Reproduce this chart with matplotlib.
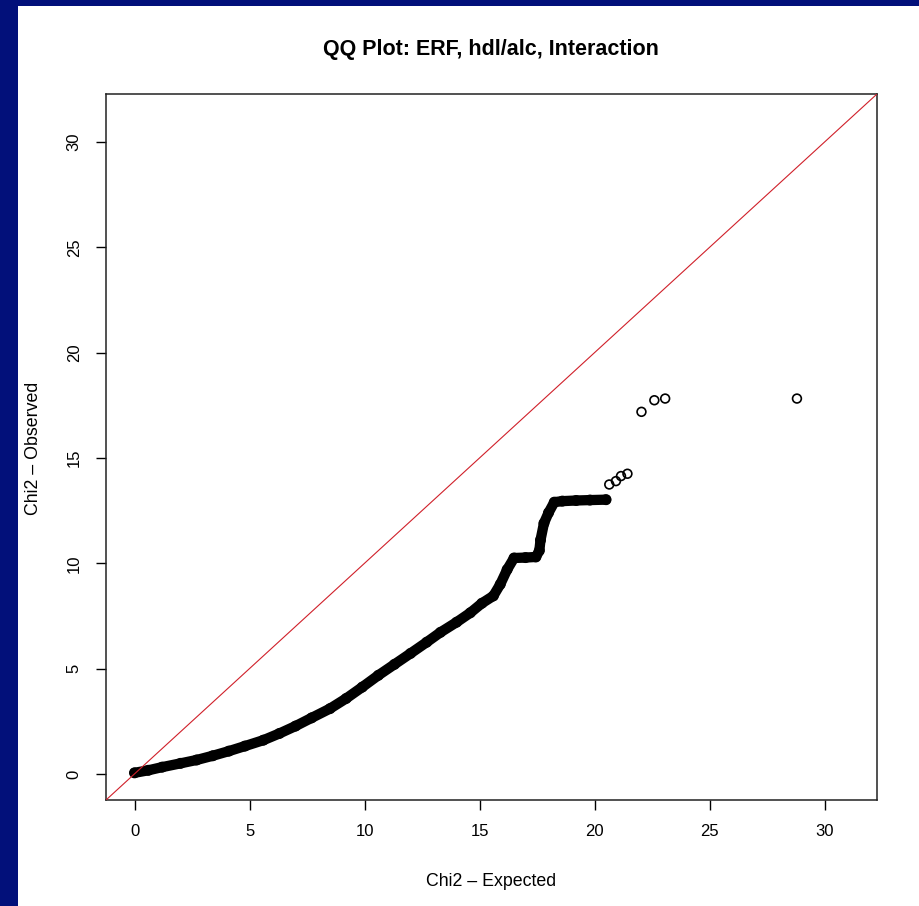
import matplotlib.pyplot as plt
from matplotlib.patches import Rectangle

plt.rcParams['font.family'] = ['Liberation Sans', 'DejaVu Sans']

# dense part of the QQ curve (expected, observed)
dense_expected = [0.0, 0.6, 1.2, 2.0, 2.7, 3.4, 4.1, 4.8, 5.6, 6.3, 7.0, 7.7, 8.5,
                  9.2, 9.9, 10.6, 11.3, 12.0, 12.7, 13.3, 14.0, 14.6, 15.1, 15.6,
                  15.9, 16.2, 16.5, 17.0, 17.45, 17.6, 17.65, 17.8, 18.0, 18.25,
                  18.6, 19.2, 19.8, 20.5]
dense_observed = [0.05, 0.17, 0.32, 0.5, 0.66, 0.86, 1.08, 1.32, 1.6, 1.92, 2.27, 2.66, 3.1,
                  3.58, 4.12, 4.68, 5.2, 5.72, 6.25, 6.72, 7.2, 7.65, 8.1, 8.45,
                  9.0, 9.7, 10.25, 10.27, 10.3, 10.6, 11.1, 11.9, 12.4, 12.9,
                  12.95, 12.98, 13.0, 13.02]

# isolated points in the tail
tail_expected = [20.64, 20.93, 21.15, 21.43, 22.04, 22.6, 23.07, 28.8]
tail_observed = [13.74, 13.9, 14.14, 14.25, 17.19, 17.74, 17.82, 17.82]

ticks = [0, 5, 10, 15, 20, 25, 30]
lim = (-1.24, 32.28)

fig = plt.figure(figsize=(9.19, 9.06), dpi=100)
fig.patch.set_facecolor('#02107a')
fig.patches.append(Rectangle((18 / 919, 0), 1, 1 - 6 / 906, transform=fig.transFigure,
                             facecolor='white', edgecolor='none', zorder=-5))

ax = fig.add_axes([106 / 919, 1 - 800 / 906, (877 - 106) / 919, (800 - 94) / 906])
ax.set_facecolor('white')

ax.plot(dense_expected, dense_observed, color='black', lw=7.4,
        solid_capstyle='round', solid_joinstyle='round', zorder=2)
ax.scatter(dense_expected, dense_observed, s=46, facecolors='none',
           edgecolors='black', linewidths=1.1, zorder=2)
ax.scatter(tail_expected, tail_observed, s=40, facecolors='none',
           edgecolors='black', linewidths=1.2, zorder=2)

ax.axline((0, 0), slope=1, color='#d0202a', lw=0.8, zorder=3)

ax.set_xlim(lim)
ax.set_ylim(lim)
ax.set_xticks(ticks)
ax.set_yticks(ticks)
ax.tick_params(direction='out', length=7.5, width=1.0, labelsize=12, pad=10)
for lab in ax.get_yticklabels():
    lab.set_rotation(90)
    lab.set_va('center')
for sp in ax.spines.values():
    sp.set_linewidth(1.1)
    sp.set_color('#222222')

fig.text(491 / 919, 1 - 50 / 906, 'QQ Plot: ERF, hdl/alc, Interaction',
         ha='center', va='center', fontsize=15.5, fontweight='bold')
fig.text(491 / 919, 1 - 881 / 906, 'Chi2 – Expected', ha='center', va='center', fontsize=12.8)
fig.text(33 / 919, 1 - 448 / 906, 'Chi2 – Observed', ha='center', va='center',
         fontsize=12.8, rotation=90)

fig.savefig('out.png', dpi=100, facecolor=fig.get_facecolor())
